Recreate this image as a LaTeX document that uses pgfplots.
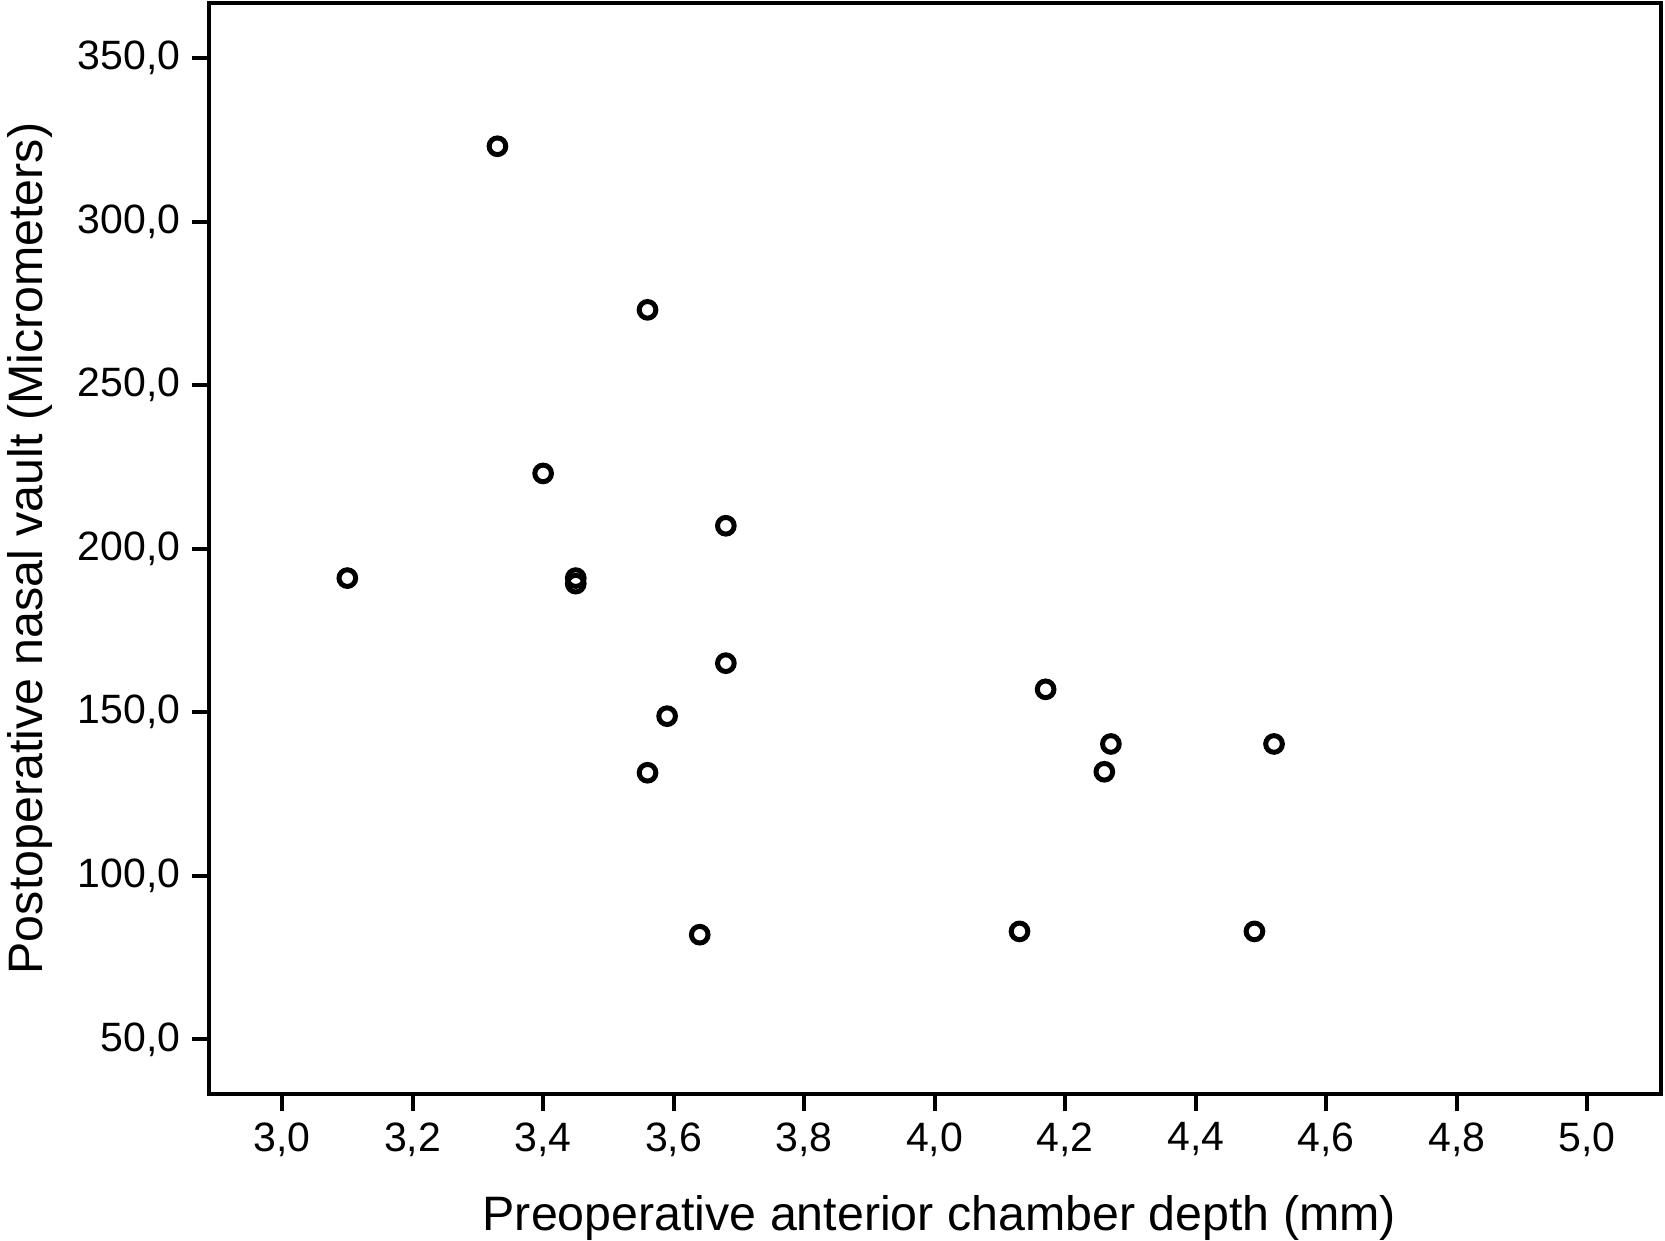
\documentclass[border=0pt]{standalone}
\usepackage{pgfplots}
\pgfplotsset{compat=1.18}
\usepackage{fontspec}
\setmainfont{Liberation Sans}

\begin{document}
\begin{tikzpicture}
  \begin{axis}[
    name=ax,
    scale only axis,
    width=435.6pt,
    height=327.3pt,
    xmin=2.888, xmax=5.113,
    ymin=33.3, ymax=366.8,
    axis line style={line width=1.2pt},
    tick style={line width=1.2pt, black},
    major tick length=5.1pt,
    tick align=outside,
    xtick={3,3.2,3.4,3.6,3.8,4,4.2,4.4,4.6,4.8,5},
    ytick={50,100,150,200,250,300,350},
    xtick pos=bottom, ytick pos=left,
    /pgf/number format/assume math mode=true,
    xticklabel style={/pgf/number format/.cd, fixed, fixed zerofill, precision=1, use comma},
    yticklabel style={/pgf/number format/.cd, fixed, fixed zerofill, precision=1, use comma},
    ticklabel style={font=\fontsize{12.3}{14}\selectfont},
    xlabel={Preoperative anterior chamber depth (mm)},
    ylabel={Postoperative nasal vault (Micrometers)},
    label style={font=\fontsize{14.5}{17}\selectfont},
    xlabel style={at={(axis description cs:0.503,0)}, anchor=base, yshift=-40.8pt},
    ylabel style={at={(axis description cs:0,0.5)}, anchor=base, yshift=49.8pt},
  ]
    % vault vs ACD
    \addplot [only marks, mark=o, mark size=2.5pt, mark options={line width=1.5pt, black}] coordinates {
      (3.10, 191.0)
      (3.33, 323.0)
      (3.56, 273.0)
      (3.40, 223.0)
      (3.45, 191.0)
      (3.45, 189.3)
      (3.68, 207.0)
      (3.68, 165.0)
      (3.59, 148.8)
      (3.56, 131.5)
      (3.64,  82.0)
      (4.13,  83.0)
      (4.17, 157.0)
      (4.27, 140.3)
      (4.26, 131.8)
      (4.49,  83.0)
      (4.52, 140.3)
    };
  \end{axis}
  \pgfresetboundingbox
  \path[use as bounding box] ([xshift=-62.7pt,yshift=-43.8pt]ax.south west) rectangle ([xshift=1.2pt,yshift=0.9pt]ax.north east);
\end{tikzpicture}
\end{document}
